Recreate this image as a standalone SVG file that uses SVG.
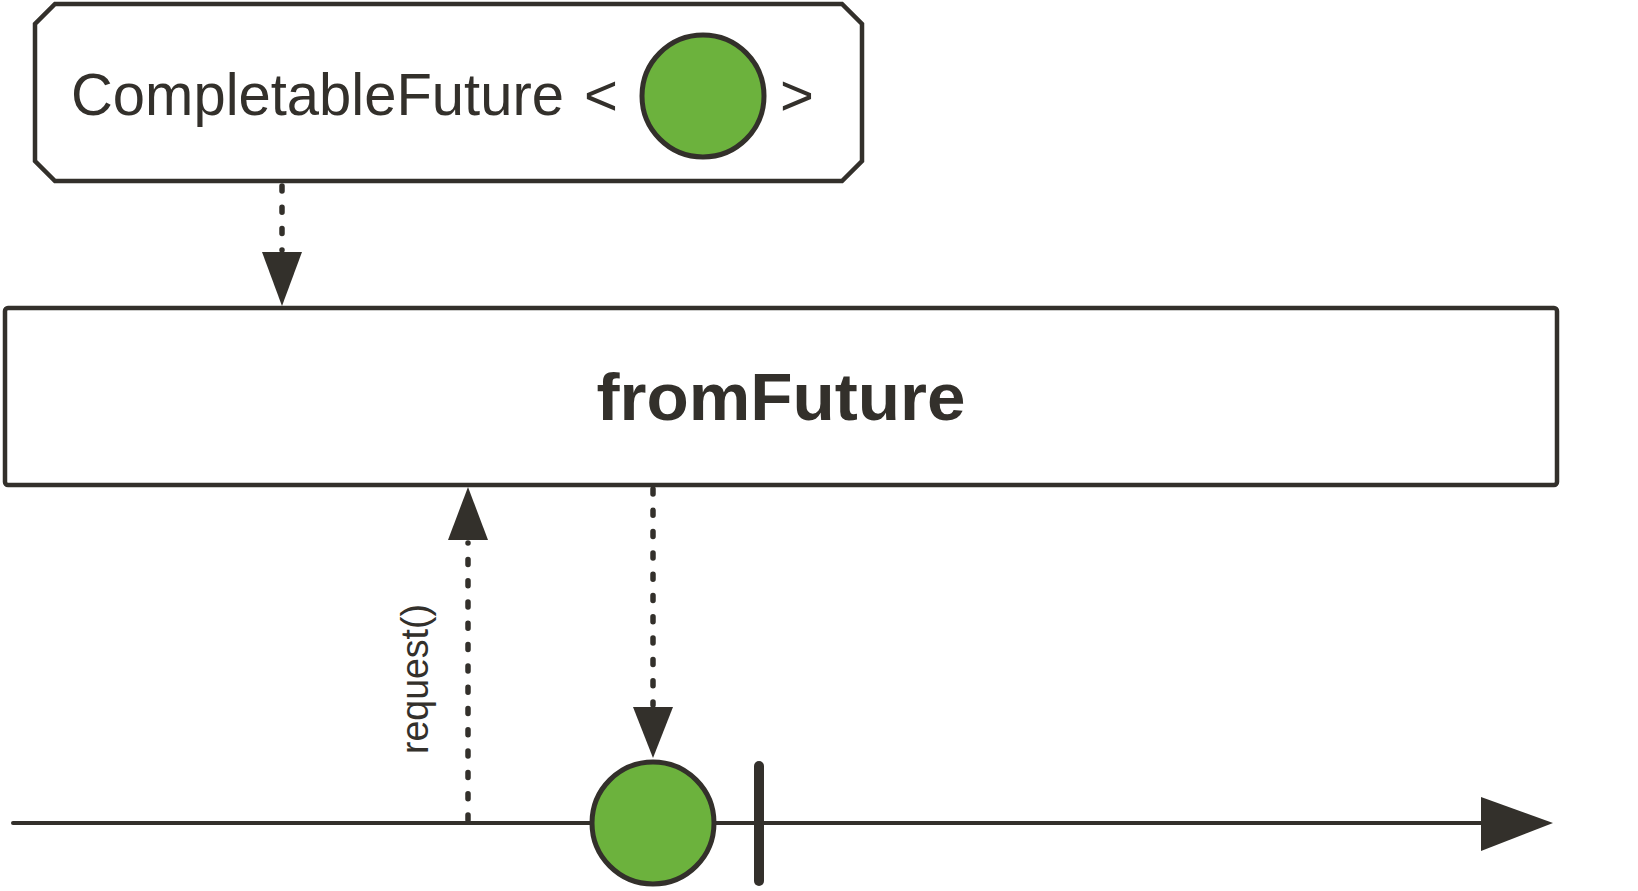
<svg xmlns="http://www.w3.org/2000/svg" width="1638" height="891" viewBox="0 0 1638 891">
<style>
.ln{stroke:#33302b;fill:none}
.box{stroke:#33302b;stroke-width:4.5;fill:#ffffff}
.dot{stroke:#33302b;stroke-width:5.5;fill:none;stroke-linecap:round;stroke-dasharray:5 16.3}
.head{fill:#33302b}
.item{fill:#6cb23d;stroke:#33302b;stroke-width:5}
.t{font-family:"Liberation Sans",Arial,sans-serif;fill:#33302b}
</style>
<rect width="1638" height="891" fill="#ffffff"/>
<g id="source">
<path class="box" d="M55,4 L842,4 L862,24 L862,161 L842,181 L55,181 L35,161 L35,24 Z"/>
<text class="t" x="71" y="115" font-size="59" textLength="493" lengthAdjust="spacingAndGlyphs">CompletableFuture</text>
<text class="t" x="584" y="115" font-size="58">&lt;</text>
<circle class="item" cx="703" cy="96" r="61"/>
<text class="t" x="780" y="115" font-size="58">&gt;</text>
</g>
<g id="fromFuture">
<rect class="box" x="5" y="308" width="1552" height="177" rx="3"/>
<text class="t" x="781" y="420" font-size="66" font-weight="bold" text-anchor="middle" textLength="369" lengthAdjust="spacingAndGlyphs">fromFuture</text>
</g>
<g id="connectors">
<line class="dot" x1="282" y1="186" x2="282" y2="250"/>
<polygon class="head" points="262,252 302,252 282,306"/>
<line class="dot" x1="468" y1="820" x2="468" y2="543"/>
<polygon class="head" points="448,540 488,540 468,487"/>
<line class="dot" x1="653" y1="489" x2="653" y2="705"/>
<polygon class="head" points="633,707 673,707 653,758"/>
<text class="t" transform="translate(428,754) rotate(-90)" font-size="38" textLength="150" lengthAdjust="spacingAndGlyphs">request()</text>
</g>
<g id="timeline">
<line class="ln" x1="13" y1="823" x2="1485" y2="823" stroke-width="4" stroke-linecap="round"/>
<polygon class="head" points="1481,797 1553,823 1481,851"/>
</g>
<g id="item">
<circle class="item" cx="653" cy="823" r="61"/>
</g>
<g id="complete">
<line class="ln" x1="759" y1="766" x2="759" y2="881" stroke-width="10" stroke-linecap="round"/>
</g>
</svg>
